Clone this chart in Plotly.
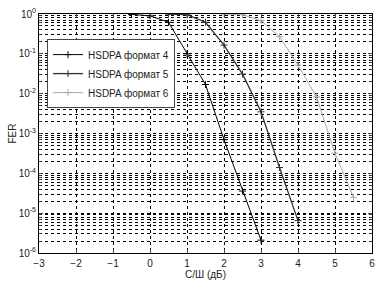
import plotly.graph_objects as go

# Data
x_f4 = [-0.5, 0.0, 0.5, 1.0, 1.5, 2.0, 2.5, 3.0]
y_f4 = [0.98, 0.9, 0.62, 0.1, 0.017, 7e-4, 3.6e-5, 2.1e-6]

x_f5 = [0.5, 1.0, 1.5, 2.0, 2.5, 3.0, 3.5, 4.0]
y_f5 = [0.99, 0.96, 0.62, 0.165, 0.031, 0.0035, 1.4e-4, 6.5e-6]

x_f6 = [2.0, 2.5, 3.0, 3.5, 4.0, 4.5, 5.0, 5.5]
y_f6 = [0.99, 0.96, 0.68, 0.27, 0.052, 0.0083, 3.2e-4, 2.5e-5]

names = ["HSDPA формат 4", "HSDPA формат 5", "HSDPA формат 6"]

x_ticks = [-3, -2, -1, 0, 1, 2, 3, 4, 5, 6]
y_tick_vals = [1, 1e-1, 1e-2, 1e-3, 1e-4, 1e-5, 1e-6]
y_tick_text = ["10<sup>0</sup>", "10<sup>-1</sup>", "10<sup>-2</sup>", "10<sup>-3</sup>",
               "10<sup>-4</sup>", "10<sup>-5</sup>", "10<sup>-6</sup>"]

series = [(x_f4, y_f4, "#000000", 1.0),
          (x_f5, y_f5, "#333333", 1.3),
          (x_f6, y_f6, "#aaaaaa", 1.0)]

fig = go.Figure()
for (xs, ys, col, w), nm in zip(series, names):
    fig.add_trace(go.Scatter(
        x=xs, y=ys, name=nm, mode="lines+markers",
        line=dict(color=col, width=w),
        marker=dict(symbol="cross-thin", size=5, line=dict(color=col, width=1)),
        hoverinfo="skip",
    ))

font = "Liberation Sans, Arial, sans-serif"
fig.update_layout(
    width=376, height=282,
    margin=dict(l=39, r=4, t=14, b=29),
    paper_bgcolor="white", plot_bgcolor="white",
    font=dict(family=font, size=10, color="#222"),
    hovermode=False,
    showlegend=True,
    legend=dict(x=0.024, y=0.895, xanchor="left", yanchor="top",
                bgcolor="white", bordercolor="#444", borderwidth=1,
                font=dict(size=10, color="#222"), itemwidth=30,
                tracegroupgap=0),
    xaxis=dict(range=[-3, 6], tickvals=x_ticks, ticks="inside", ticklen=4,
               showline=True, mirror="ticks", linecolor="black", linewidth=1,
               showgrid=True, gridcolor="#000", griddash="dot", gridwidth=1,
               zeroline=False, ticklabelstandoff=1, automargin=False,
               title=dict(text="С/Ш (дБ)", standoff=0, font=dict(size=10)),
               tickfont=dict(size=10)),
    yaxis=dict(type="log", range=[-6, 0], tickvals=y_tick_vals, ticktext=y_tick_text,
               ticks="inside", ticklen=4, automargin=False,
               showline=True, mirror="ticks", linecolor="black", linewidth=1,
               showgrid=True, gridcolor="#000", griddash="dot", gridwidth=1,
               zeroline=False,
               minor=dict(dtick="D1", showgrid=True, gridcolor="#000", griddash="dot",
                          gridwidth=1, ticks="inside", ticklen=2),
               title=dict(text="FER", standoff=0, font=dict(size=10)),
               tickfont=dict(size=10)),
)

fig.write_html("out.html",
               config={"displayModeBar": False, "staticPlot": True},
               post_script="document.body.style.margin='0';document.body.style.padding='0';")
